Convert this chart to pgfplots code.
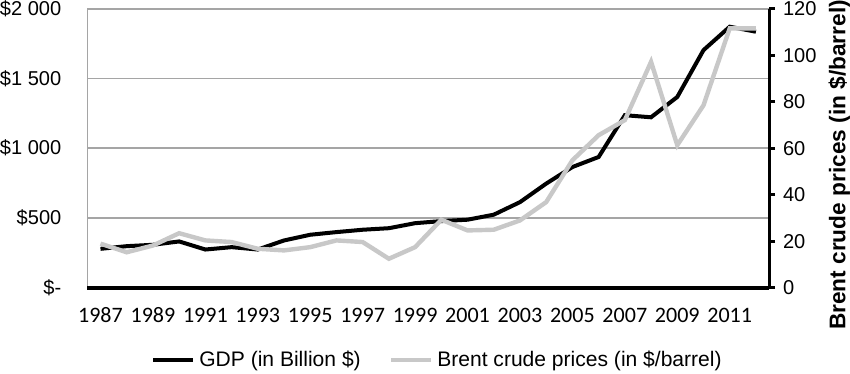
\documentclass[border=0pt]{standalone}
\usepackage{pgfplots}
\pgfplotsset{compat=1.18}
\usepackage{fontspec}
\setmainfont{Liberation Sans}
\newfontfamily\carlito{Carlito}
\definecolor{oilgray}{RGB}{200,200,200}
\definecolor{gridgray}{RGB}{165,165,165}
\begin{document}
\begin{tikzpicture}
\pgfplotsset{/pgf/number format/assume math mode=true}
\begin{axis}[
 scale only axis, width=340pt, height=139pt,
 xmin=1986.5, xmax=2012.5, ymin=0, ymax=2000,
 xtick={1987,1989,...,2011},
 xticklabels={1987,1989,1991,1993,1995,1997,1999,2001,2003,2005,2007,2009,2011},
 xticklabel style={font=\carlito\fontsize{11}{13}\selectfont, anchor=north, inner sep=0pt, text height=7pt, text depth=0pt, yshift=-10pt},
 ytick={0,500,1000,1500,2000},
 yticklabels={\$-,\$500,\$1~000,\$1~500,\$2~000},
 yticklabel style={font=\fontsize{10}{12}\selectfont, inner sep=0pt, xshift=-12.8pt},
 ymajorgrids, grid style={gridgray, line width=0.8pt},
 major tick length=0pt,
 axis line style={gridgray, line width=0.8pt},
 clip=false,
]
\addplot[black, line width=2pt] coordinates {
(1987,278) (1988,297) (1989,307) (1990,331) (1991,273) (1992,290) (1993,273)
(1994,338) (1995,379) (1996,398) (1997,415) (1998,426) (1999,462) (2000,477)
(2001,487) (2002,523) (2003,613) (2004,746) (2005,865) (2006,937) (2007,1237)
(2008,1222) (2009,1368) (2010,1704) (2011,1872) (2012,1836)};
\draw[black, line width=2pt] (rel axis cs:0,0) -- (rel axis cs:1,0);
\end{axis}
\begin{axis}[
 scale only axis, width=340pt, height=139pt,
 xmin=1986.5, xmax=2012.5, ymin=0, ymax=120,
 axis x line=none, axis y line*=right,
 ytick={0,20,...,120},
 y axis line style={black, line width=1.5pt, -},
 tick align=outside, major tick length=3pt, tick style={black, line width=1.5pt},
 yticklabel style={font=\fontsize{10}{12}\selectfont, inner sep=0pt, xshift=3.8pt},
 ylabel={\bfseries Brent crude prices (in \$/barrel)},
 ylabel style={font=\fontsize{11.3}{13}\selectfont, inner sep=0pt, at={(axis description cs:1.103,0.44)}, anchor=center},
 legend style={at={(axis description cs:0.515,0)}, anchor=center, yshift=-36pt, draw=none, fill=none, inner sep=0pt,
   font=\fontsize{10.5}{12}\selectfont, /tikz/every even column/.append style={column sep=12pt}},
 legend columns=2,
 legend image code/.code={\draw[#1] (0pt,0pt) -- (20pt,0pt);},
 clip=false,
]
\addlegendimage{black, line width=2pt}
\addlegendentry{GDP (in Billion \$)}
\addplot[oilgray, line width=2.2pt] coordinates {
(1987,18.9) (1988,15.2) (1989,18.1) (1990,23.4) (1991,20.3) (1992,19.6) (1993,16.7)
(1994,16.0) (1995,17.4) (1996,20.3) (1997,19.6) (1998,12.4) (1999,17.4) (2000,29.2)
(2001,24.6) (2002,24.9) (2003,28.9) (2004,36.8) (2005,54.8) (2006,65.6) (2007,72.1)
(2008,97.2) (2009,61.3) (2010,78.5) (2011,111.6) (2012,111.6)};
\addlegendentry{Brent crude prices (in \$/barrel)}
\end{axis}
\end{tikzpicture}
\end{document}
